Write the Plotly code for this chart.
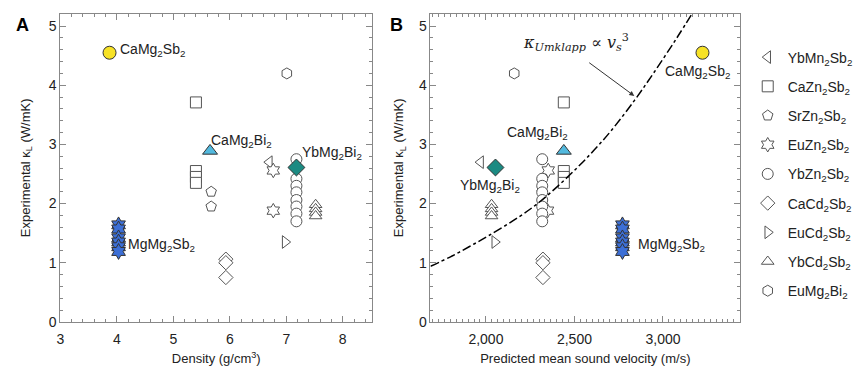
import plotly.graph_objects as go

# ---------------- data ----------------
names = ["YbMn<sub>2</sub>Sb<sub>2</sub>", "CaZn<sub>2</sub>Sb<sub>2</sub>", "SrZn<sub>2</sub>Sb<sub>2</sub>",
         "EuZn<sub>2</sub>Sb<sub>2</sub>", "YbZn<sub>2</sub>Sb<sub>2</sub>", "CaCd<sub>2</sub>Sb<sub>2</sub>",
         "EuCd<sub>2</sub>Sb<sub>2</sub>", "YbCd<sub>2</sub>Sb<sub>2</sub>", "EuMg<sub>2</sub>Bi<sub>2</sub>"]
symbols = ["triangle-left", "square", "pentagon", "hexagram", "circle", "diamond",
           "triangle-right", "triangle-up", "hexagon"]

density = [
    [6.70],
    [5.40, 5.40, 5.40, 5.40],
    [5.67, 5.67],
    [6.77, 6.77],
    [7.18] * 8,
    [5.93, 5.93, 5.93],
    [6.98],
    [7.52, 7.52, 7.52, 7.52],
    [7.01],
]
kappa = [
    [2.70],
    [3.71, 2.55, 2.45, 2.35],
    [2.20, 1.95],
    [2.56, 1.88],
    [2.75, 2.42, 2.30, 2.19, 2.06, 1.95, 1.83, 1.70],
    [1.06, 1.00, 0.75],
    [1.35],
    [1.98, 1.91, 1.85, 1.79],
    [4.20],
]
velocity = [
    [1970],
    [2440, 2440, 2440, 2440],
    [2318, 2318],
    [2352, 2348],
    [2318] * 8,
    [2322, 2322, 2322],
    [2050],
    [2032, 2032, 2032, 2032],
    [2160],
]

# highlighted compounds
hl_names = ["CaMg<sub>2</sub>Sb<sub>2</sub>", "CaMg<sub>2</sub>Bi<sub>2</sub>",
            "YbMg<sub>2</sub>Bi<sub>2</sub>", "MgMg<sub>2</sub>Sb<sub>2</sub>"]
hl_symbols = ["circle", "triangle-up", "diamond", "hexagram"]
hl_colors = ["#f7e226", "#52b9de", "#1b8a82", "#3c6fd6"]
hl_density = [[3.87], [5.65], [7.18], [4.03] * 6]
hl_kappa = [[4.55], [2.89], [2.61], [1.64, 1.57, 1.42, 1.35, 1.27, 1.19]]
hl_velocity = [[3223], [2440], [2054], [2771] * 6]

# model curve (kappa_Umklapp ~ v^3)
curve_v = [1687, 1800, 1905, 2017, 2184, 2296, 2408, 2520, 2610, 2704, 2838, 2950, 3078, 3173]
curve_k = [0.94, 1.10, 1.27, 1.46, 1.77, 2.01, 2.30, 2.62, 2.90, 3.22, 3.74, 4.22, 4.80, 5.25]

GRAY = "#555555"
fig = go.Figure()

for i, nm in enumerate(names):
    fig.add_trace(go.Scatter(
        x=density[i], y=kappa[i], mode="markers", name=nm, legendgroup=nm,
        marker=dict(symbol=symbols[i], size=11, color="white", line=dict(color=GRAY, width=1)),
        xaxis="x", yaxis="y", showlegend=True))
    fig.add_trace(go.Scatter(
        x=velocity[i], y=kappa[i], mode="markers", name=nm, legendgroup=nm,
        marker=dict(symbol=symbols[i], size=11, color="white", line=dict(color=GRAY, width=1)),
        xaxis="x2", yaxis="y2", showlegend=False))

fig.add_trace(go.Scatter(x=curve_v, y=curve_k, mode="lines",
                         line=dict(color="black", width=1.5, dash="dashdot", shape="spline"),
                         xaxis="x2", yaxis="y2", showlegend=False, hoverinfo="skip"))

for i, nm in enumerate(hl_names):
    sz = 13 if hl_symbols[i] != "hexagram" else 12
    for xs, ax, ay in ((hl_density[i], "x", "y"), (hl_velocity[i], "x2", "y2")):
        fig.add_trace(go.Scatter(
            x=xs, y=hl_kappa[i], mode="markers", name=nm,
            marker=dict(symbol=hl_symbols[i], size=sz, color=hl_colors[i], line=dict(color="#333333", width=1)),
            xaxis=ax, yaxis=ay, showlegend=False))

FONT = "Liberation Sans, Arial, sans-serif"


def lab(text, x, y, xr, yr, xanchor="left"):
    return dict(text=text, x=x, y=y, xref=xr, yref=yr, showarrow=False, xanchor=xanchor,
                yanchor="middle", font=dict(family=FONT, size=14, color="#222222"))


annotations = [
    dict(text="<b>A</b>", x=0.012, y=0.932, xref="paper", yref="paper", showarrow=False,
         font=dict(family=FONT, size=18, color="black"), xanchor="left", yanchor="middle"),
    dict(text="<b>B</b>", x=0.452, y=0.932, xref="paper", yref="paper", showarrow=False,
         font=dict(family=FONT, size=18, color="black"), xanchor="left", yanchor="middle"),
    lab("CaMg<sub>2</sub>Sb<sub>2</sub>", 4.02, 4.60, "x", "y"),
    lab("CaMg<sub>2</sub>Bi<sub>2</sub>", 5.63, 3.05, "x", "y"),
    lab("YbMg<sub>2</sub>Bi<sub>2</sub>", 7.25, 2.86, "x", "y"),
    lab("MgMg<sub>2</sub>Sb<sub>2</sub>", 4.17, 1.30, "x", "y"),
    lab("CaMg<sub>2</sub>Sb<sub>2</sub>", 3000, 4.23, "x2", "y2"),
    lab("CaMg<sub>2</sub>Bi<sub>2</sub>", 2110, 3.20, "x2", "y2"),
    lab("YbMg<sub>2</sub>Bi<sub>2</sub>", 1840, 2.30, "x2", "y2"),
    lab("MgMg<sub>2</sub>Sb<sub>2</sub>", 2850, 1.30, "x2", "y2"),
    dict(text="<i>κ<sub>Umklapp</sub></i> ∝ <i>v</i><sub><i>s</i></sub><sup>3</sup>", x=2200, y=4.73,
         xref="x2", yref="y2", showarrow=False, xanchor="left", yanchor="middle",
         font=dict(family="DejaVu Serif, Liberation Serif, serif", size=16, color="#222222")),
    dict(text="", x=2838, y=3.82, xref="x2", yref="y2", ax=2575, ay=4.40, axref="x2", ayref="y2",
         showarrow=True, arrowhead=2, arrowsize=1, arrowwidth=1, arrowcolor="#333333"),
]

axis_common = dict(showline=True, linecolor="#888888", linewidth=1, mirror="ticks", ticks="inside",
                   ticklen=6, tickcolor="#888888", showgrid=False, zeroline=False,
                   tickfont=dict(family=FONT, size=14, color="#222222"),
                   title_font=dict(family=FONT, size=13, color="#222222"))
minor = dict(ticks="inside", ticklen=3, tickcolor="#888888")

fig.update_layout(
    width=858, height=369, margin=dict(l=0, r=0, t=0, b=0),
    paper_bgcolor="white", plot_bgcolor="white",
    xaxis=dict(domain=[57/858, 372/858], range=[3, 8.52], dtick=1, tick0=3,
               minor=dict(dtick=0.2, **minor), ticklabelstandoff=4,
               title=dict(text="Density (g/cm<sup>3</sup>)", standoff=8), anchor="y", **axis_common),
    yaxis=dict(domain=[40/369, 355/369], range=[0, 5.21], dtick=1,
               minor=dict(dtick=0.2, **minor),
               title=dict(text="Experimental κ<sub>L</sub> (W/mK)", standoff=15), anchor="x", **axis_common),
    xaxis2=dict(domain=[431/858, 744/858], range=[1687, 3436], dtick=500, tick0=2000, tickformat=",d",
                minor=dict(dtick=100/3, **minor), ticklabelstandoff=4,
                title=dict(text="Predicted mean sound velocity (m/s)", standoff=8), anchor="y2", **axis_common),
    yaxis2=dict(domain=[40/369, 355/369], range=[0, 5.21], dtick=1,
                minor=dict(dtick=0.2, **minor),
                title=dict(text="Experimental κ<sub>L</sub> (W/mK)", standoff=12), anchor="x2", **axis_common),
    legend=dict(x=0.876, y=0.885, xanchor="left", yanchor="top", tracegroupgap=8,
                font=dict(family=FONT, size=14, color="#222222"), bgcolor="rgba(0,0,0,0)",
                itemwidth=30),
    annotations=annotations,
    showlegend=True,
)

fig.write_html("out.html")
